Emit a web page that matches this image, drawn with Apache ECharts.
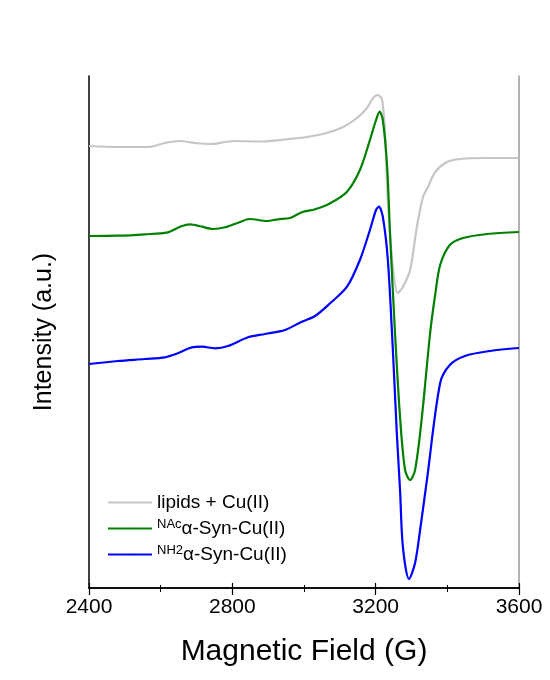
<!DOCTYPE html>
<html>
<head>
<meta charset="utf-8">
<script src="https://cdn.jsdelivr.net/npm/echarts@6/dist/echarts.min.js"></script>
<style>
  html, body { margin: 0; padding: 0; background: #fff; }
  #chart { width: 550px; height: 680px; }
</style>
</head>
<body>
<div id="chart"></div>
<script>
// magnetic field (G) and intensity (a.u., offset traces)
var lipidsField = [2400, 2481, 2565, 2612, 2654, 2696, 2743, 2780, 2807, 2877, 2933, 3008, 3064, 3109, 3148, 3176, 3193, 3206, 3218, 3226, 3234, 3248, 3262, 3276, 3296, 3315, 3332, 3346, 3366, 3399, 3435, 3511, 3600];
var lipidsInt = [442, 441, 441, 445, 447, 445, 444, 446, 447, 446.5, 448, 451, 455, 461, 470, 480, 490, 493, 488, 455, 388, 321, 295, 301, 318, 361, 391, 401, 416, 426, 429, 430, 430];

var nacField = [2400, 2481, 2556, 2620, 2654, 2682, 2715, 2746, 2780, 2816, 2849, 2897, 2927, 2961, 2994, 3031, 3073, 3120, 3156, 3184, 3201, 3211, 3220, 3232, 3240, 3254, 3268, 3282, 3296, 3310, 3329, 3352, 3366, 3380, 3407, 3444, 3511, 3600];
var nacInt = [352, 352.3, 353.7, 355.7, 361.3, 363.7, 361.3, 359, 360.7, 365.3, 369, 367, 368.7, 370, 375.7, 378.7, 384.7, 396.3, 418, 448, 468, 476.3, 468, 421.3, 355, 255, 171, 118, 108, 118, 171, 255, 293, 323, 343, 350, 354, 356];

var nh2Field = [2400, 2481, 2556, 2612, 2648, 2687, 2715, 2752, 2788, 2844, 2891, 2947, 2994, 3031, 3073, 3120, 3156, 3184, 3201, 3209, 3220, 3234, 3248, 3259, 3268, 3276, 3293, 3310, 3324, 3343, 3380, 3407, 3449, 3519, 3600];
var nh2Int = [224, 227, 229, 230.7, 234.7, 240.7, 241.3, 239.7, 242, 250.7, 254, 258, 266.3, 272, 284.7, 301.3, 328, 358, 378, 381.3, 371.3, 328, 238, 155, 98, 41, 9, 25, 58, 108, 205, 223, 232, 237, 240];

var fieldTicks = [2400, 2800, 3200, 3600];

function pairs(xs, ys) {
  return xs.map(function (x, i) { return [x, ys[i]]; });
}

var chart = echarts.init(document.getElementById('chart'));
var font = 'Liberation Sans, Arial, sans-serif';

chart.setOption({
  animation: false,
  backgroundColor: '#fff',
  textStyle: { fontFamily: font },
  grid: { left: 89, right: 31, top: 76, bottom: 92 },
  legend: {
    orient: 'vertical',
    left: 102,
    top: 488,
    itemWidth: 44,
    itemHeight: 2,
    itemGap: 6,
    textStyle: {
      fontFamily: font,
      fontSize: 19,
      color: '#000',
      rich: {
        sup: { fontSize: 13, fontFamily: font, color: '#000', padding: [0, 0, 8, 0] },
        n: { fontSize: 19, fontFamily: font, color: '#000' }
      }
    },
    formatter: function (name) {
      if (name === 'nac') return '{sup|NAc}{n|α-Syn-Cu(II)}';
      if (name === 'nh2') return '{sup|NH2}{n|α-Syn-Cu(II)}';
      return '{n|lipids + Cu(II)}';
    },
    data: ['lipids', 'nac', 'nh2']
  },
  xAxis: [{
    type: 'value',
    min: 2400,
    max: 3600,
    interval: 400,
    name: 'Magnetic Field (G)',
    nameLocation: 'middle',
    nameGap: 49,
    nameTextStyle: { fontSize: 30, color: '#000', fontFamily: font },
    axisLine: { lineStyle: { color: '#000', width: 1.5 } },
    axisTick: { inside: false, length: 7, lineStyle: { color: '#000', width: 1.2 } },
    minorTick: { show: true, splitNumber: 2, length: 4, lineStyle: { color: '#000', width: 1 } },
    axisLabel: {
      fontSize: 21, color: '#000', margin: 9, fontFamily: font,
      formatter: function (v) { return fieldTicks.indexOf(v) >= 0 ? String(v) : ''; }
    },
    splitLine: { show: false }
  }, {
    type: 'value',
    position: 'top',
    min: 2400,
    max: 3600,
    interval: 400,
    axisLine: { lineStyle: { color: '#000', width: 1.5 } },
    axisTick: { inside: false, length: 5, lineStyle: { color: '#000', width: 1.2 } },
    minorTick: { show: true, splitNumber: 2, length: 3, lineStyle: { color: '#000', width: 1 } },
    axisLabel: { show: false },
    splitLine: { show: false }
  }],
  yAxis: [{
    type: 'value',
    min: 0,
    max: 512,
    name: 'Intensity (a.u.)',
    nameLocation: 'middle',
    nameGap: 32,
    nameTextStyle: { fontSize: 25, color: '#000', fontFamily: font },
    axisLine: { show: true, lineStyle: { color: '#000', width: 1.5 } },
    axisTick: { show: false },
    axisLabel: { show: false },
    splitLine: { show: false }
  }, {
    type: 'value',
    position: 'right',
    min: 0,
    max: 512,
    axisLine: { show: true, lineStyle: { color: '#999', width: 1.5 } },
    axisTick: { show: false },
    axisLabel: { show: false },
    splitLine: { show: false }
  }],
  series: [{
    name: 'lipids',
    type: 'line',
    smooth: 0.3,
    symbol: 'none',
    lineStyle: { color: '#c6c6c6', width: 2.2 },
    itemStyle: { color: '#c6c6c6' },
    data: pairs(lipidsField, lipidsInt)
  }, {
    name: 'nac',
    type: 'line',
    smooth: 0.3,
    symbol: 'none',
    lineStyle: { color: '#008000', width: 2.2 },
    itemStyle: { color: '#008000' },
    data: pairs(nacField, nacInt)
  }, {
    name: 'nh2',
    type: 'line',
    smooth: 0.3,
    symbol: 'none',
    lineStyle: { color: '#0000ff', width: 2.2 },
    itemStyle: { color: '#0000ff' },
    data: pairs(nh2Field, nh2Int)
  }]
});
</script>
</body>
</html>
